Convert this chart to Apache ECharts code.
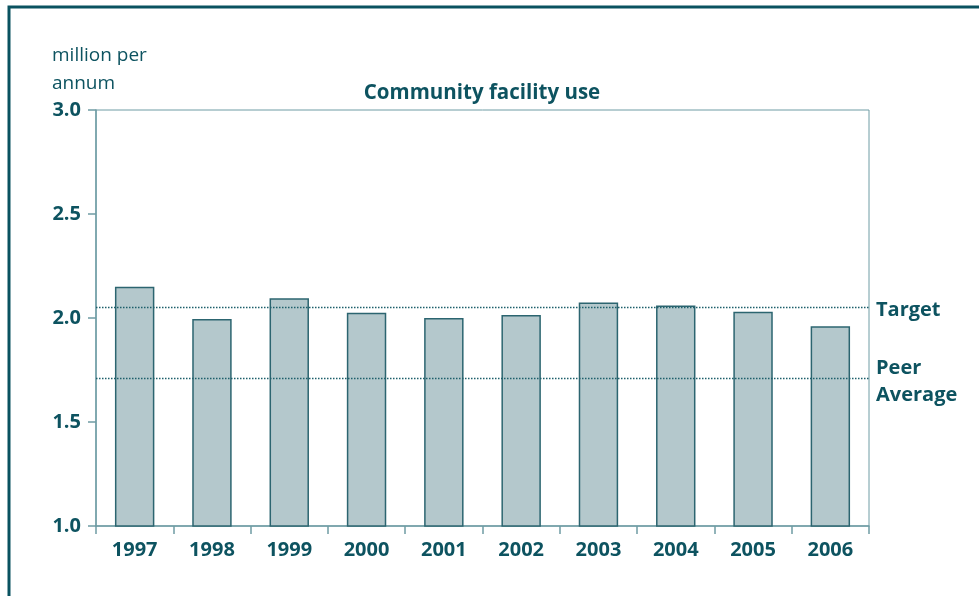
<!DOCTYPE html>
<html>
<head>
<meta charset="utf-8">
<title>Community facility use</title>
<script src="https://cdn.jsdelivr.net/npm/echarts@6/dist/echarts.min.js"></script>
<style>
  html, body { margin: 0; padding: 0; background: #ffffff; }
  #chart { width: 979px; height: 596px; }
</style>
</head>
<body>
<div id="chart"></div>
<script>
// Annual community facility use, million visits per annum
const years = ['1997', '1998', '1999', '2000', '2001', '2002', '2003', '2004', '2005', '2006'];
const usage = [2.15, 1.995, 2.095, 2.025, 2.0, 2.015, 2.075, 2.06, 2.03, 1.96];
const targetValue = 2.05;
const peerAverageValue = 1.71;
const yTicks = [1.0, 1.5, 2.0, 2.5, 3.0];

const ink = '#0d5360';
const axisTeal = '#6f9ca4';
const fontFamily = '"Open Sans", "Noto Sans", sans-serif';

const refLabelText = {
  color: ink,
  fontFamily,
  fontWeight: 'bold',
  fontSize: 20,
  lineHeight: 27
};

const chart = echarts.init(document.getElementById('chart'), null, { renderer: 'canvas' });

chart.setOption({
  animation: false,
  backgroundColor: '#ffffff',
  title: {
    text: 'Community facility use',
    left: 477,
    textAlign: 'center',
    top: 78,
    textStyle: { color: ink, fontFamily, fontWeight: 'bold', fontSize: 20.5 }
  },
  graphic: [
    {
      type: 'rect',
      shape: { x: 9, y: 7, width: 1200, height: 800 },
      style: { fill: 'none', stroke: '#0a5260', lineWidth: 3 },
      silent: true
    },
    {
      type: 'text',
      left: 52,
      top: 42,
      style: {
        text: 'million per\nannum',
        fill: ink,
        font: '19px ' + fontFamily,
        lineHeight: 28
      }
    }
  ],
  grid: {
    left: 96,
    right: 110,
    top: 110,
    bottom: 70,
    show: true,
    borderColor: axisTeal,
    borderWidth: 1,
    backgroundColor: 'transparent'
  },
  xAxis: {
    type: 'category',
    data: years,
    boundaryGap: true,
    axisLine: { show: true, lineStyle: { color: axisTeal, width: 1.5 } },
    axisTick: { show: true, length: 8, inside: false, alignWithLabel: false, lineStyle: { color: axisTeal, width: 1.5 } },
    axisLabel: { color: ink, fontFamily, fontWeight: 'bold', fontSize: 20, margin: 14 },
    splitLine: { show: false }
  },
  yAxis: {
    type: 'value',
    min: yTicks[0],
    max: yTicks[yTicks.length - 1],
    interval: 0.5,
    axisLine: { show: true, lineStyle: { color: axisTeal, width: 1.5 } },
    axisTick: { show: true, length: 8, lineStyle: { color: axisTeal, width: 1.5 } },
    axisLabel: {
      color: ink,
      fontFamily,
      fontWeight: 'bold',
      fontSize: 20,
      margin: 15,
      formatter: v => v.toFixed(1)
    },
    splitLine: { show: false }
  },
  series: [
    {
      type: 'bar',
      data: usage,
      barWidth: '51%',
      itemStyle: { color: '#b4c8cc', borderColor: '#2c6570', borderWidth: 1.5 },
      markLine: {
        silent: true,
        symbol: ['none', 'none'],
        lineStyle: { color: '#1d5f6b', type: [1.5, 1.5], width: 1.4 },
        label: {
          show: true,
          position: 'end',
          distance: 7,
          align: 'left',
          ...refLabelText,
          rich: {
            t: { ...refLabelText, padding: [6, 0, 0, 0] },
            p: { ...refLabelText, padding: [6, 0, 0, 0] },
            a: { ...refLabelText, padding: [6, 0, 0, 0] }
          }
        },
        data: [
          { yAxis: targetValue, label: { formatter: '{t|Target}' } },
          { yAxis: peerAverageValue, label: { formatter: '{p|Peer}\n{a|Average}' } }
        ]
      }
    }
  ]
});
</script>
</body>
</html>
